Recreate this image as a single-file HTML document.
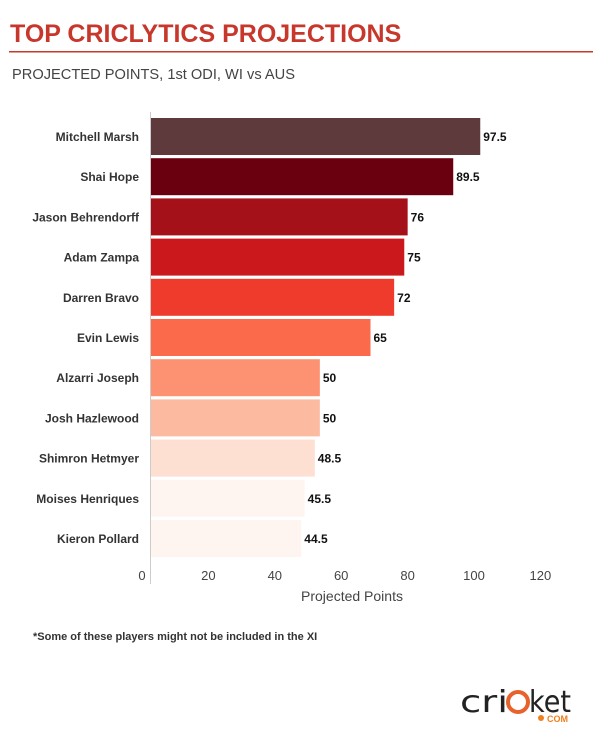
<!DOCTYPE html>
<html><head><meta charset="utf-8"><style>
body{margin:0;background:#fff;font-family:"Liberation Sans",sans-serif;}
#wrap{position:relative;width:600px;height:736px;overflow:hidden;}
</style></head><body>
<div id="wrap">
<svg id="chart" width="600" height="736">
<text x="10" y="42" font-size="25" font-weight="bold" fill="#c7372c">TOP CRICLYTICS PROJECTIONS</text>
<rect x="9" y="51" width="584" height="1.5" fill="#c7372c"/>
<text x="12" y="79" font-size="15" fill="#444" textLength="283" lengthAdjust="spacingAndGlyphs">PROJECTED POINTS, 1st ODI, WI vs AUS</text>
<line x1="150.5" y1="112" x2="150.5" y2="584" stroke="#ccc"/>
<g id="bars"></g>
<g id="ticks"></g>
<text x="352" y="601" font-size="14" fill="#444" text-anchor="middle">Projected Points</text>
<text x="33" y="640" font-size="11" font-weight="bold" fill="#333">*Some of these players might not be included in the XI</text>
<g>
<text x="460" y="712" font-size="30" fill="#222" font-family="DejaVu Sans, sans-serif" textLength="48" lengthAdjust="spacingAndGlyphs">cri</text>
<circle cx="518" cy="702" r="10" fill="none" stroke="#e8632b" stroke-width="4"/>
<text x="529" y="712" font-size="30" fill="#222" font-family="DejaVu Sans, sans-serif" textLength="42" lengthAdjust="spacingAndGlyphs">ket</text>
<circle cx="541" cy="718" r="3" fill="#f07f1e"/>
<text x="547" y="722" font-size="9" font-weight="bold" fill="#f07f1e">COM</text>
</g>
</svg>
</div>
<script>
const players=["Mitchell Marsh","Shai Hope","Jason Behrendorff","Adam Zampa","Darren Bravo","Evin Lewis","Alzarri Joseph","Josh Hazlewood","Shimron Hetmyer","Moises Henriques","Kieron Pollard"];
const points=[97.5,89.5,76,75,72,65,50,50,48.5,45.5,44.5];
const labels=["97.5","89.5","76","75","72","65","50","50","48.5","45.5","44.5"];
const colors=["#5e3a3c","#6a000f","#a51119","#cb181d","#ef3b2c","#fb6a4a","#fc9272","#fcbba1","#fee0d2","#fff5f0","#fff5f0"];
const tickVals=[0,20,40,60,80,100,120];
const NS="http://www.w3.org/2000/svg";
function x(v){return 151+v*3.377;}
function tickX(v){return 142+v*3.32;}
function rowY(i){return 118+i*40.2;}
const gb=document.getElementById('bars');
players.forEach((p,i)=>{
 const y=rowY(i);
 const r=document.createElementNS(NS,'rect');
 r.setAttribute('x',x(0));r.setAttribute('y',y);r.setAttribute('width',x(points[i])-x(0));r.setAttribute('height',37);r.setAttribute('fill',colors[i]);
 
 
 gb.appendChild(r);
 const t=document.createElementNS(NS,'text');
 t.setAttribute('x',139);t.setAttribute('y',y+23);t.setAttribute('text-anchor','end');t.setAttribute('font-size','12');t.setAttribute('font-weight','bold');t.setAttribute('fill','#333');t.textContent=p;
 
 
 gb.appendChild(t);
 const v=document.createElementNS(NS,'text');
 v.setAttribute('x',x(points[i])+3);v.setAttribute('y',y+23);v.setAttribute('font-size','12');v.setAttribute('font-weight','bold');v.setAttribute('fill','#111');v.textContent=labels[i];
 
 
 gb.appendChild(v);
});
const gt=document.getElementById('ticks');
tickVals.forEach(v=>{
 const t=document.createElementNS(NS,'text');
 t.setAttribute('x',tickX(v));t.setAttribute('y',580);t.setAttribute('text-anchor','middle');t.setAttribute('font-size','13');t.setAttribute('fill','#444');t.textContent=v;
 
 
 gt.appendChild(t);
});
</script>
</body></html>
